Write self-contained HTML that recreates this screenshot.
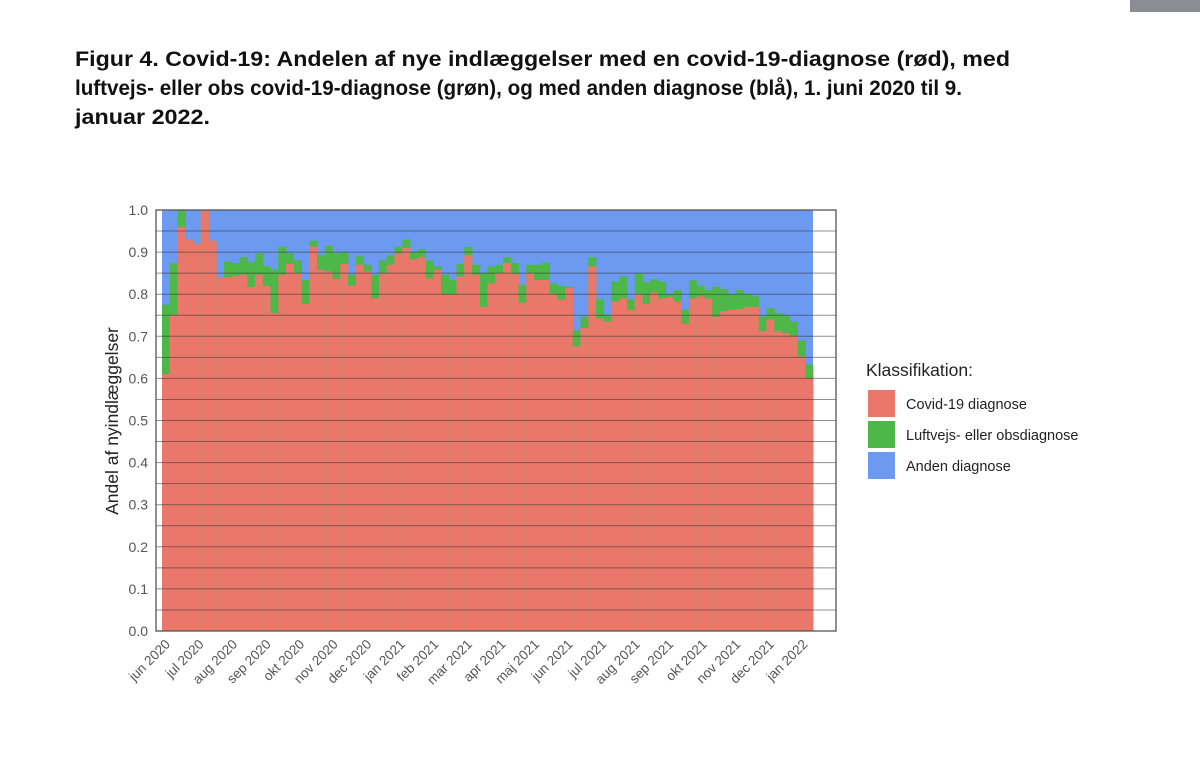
<!DOCTYPE html>
<html><head><meta charset="utf-8"><style>
body{margin:0;background:#fff;width:1200px;height:781px;overflow:hidden;font-family:"Liberation Sans",Arial,sans-serif}
.t{position:absolute;left:75px;margin:0;font-size:21px;line-height:29px;font-weight:bold;color:#111;white-space:nowrap;transform-origin:0 0}
</style></head><body>
<div style="position:absolute;left:1130px;top:0;width:70px;height:12px;background:#8a8d92"></div>
<div class="t" data-w="935" style="top:45px">Figur 4. Covid-19: Andelen af nye indlæggelser med en covid-19-diagnose (rød), med</div>
<div class="t" data-w="887" style="top:74px">luftvejs- eller obs covid-19-diagnose (grøn), og med anden diagnose (blå), 1. juni 2020 til 9.</div>
<div class="t" data-w="135" style="top:103px">januar 2022.</div>
<svg id="s" width="1200" height="781" style="position:absolute;left:0;top:0" xmlns="http://www.w3.org/2000/svg"></svg>
<script>
document.querySelectorAll('.t').forEach(function(e){var tw=+e.getAttribute('data-w');var w=e.getBoundingClientRect().width;e.style.transform='scaleX('+(tw/w)+')';});
var g=[0.775,0.874,1,0.93,0.92,1,0.927,0.84,0.877,0.874,0.888,0.877,0.897,0.866,0.858,0.913,0.897,0.88,0.834,0.927,0.893,0.915,0.897,0.9,0.846,0.89,0.87,0.846,0.88,0.893,0.913,0.93,0.9,0.907,0.88,0.866,0.846,0.834,0.872,0.912,0.87,0.85,0.866,0.87,0.888,0.874,0.822,0.87,0.87,0.875,0.826,0.82,0.817,0.714,0.746,0.888,0.788,0.75,0.83,0.842,0.788,0.85,0.828,0.836,0.83,0.8,0.81,0.763,0.833,0.82,0.81,0.818,0.812,0.8,0.81,0.8,0.795,0.747,0.767,0.755,0.75,0.735,0.69,0.633];
var r=[0.61,0.75,0.96,0.93,0.92,1,0.927,0.84,0.84,0.843,0.846,0.817,0.846,0.82,0.755,0.846,0.872,0.85,0.777,0.913,0.858,0.854,0.836,0.872,0.82,0.87,0.854,0.79,0.85,0.87,0.897,0.91,0.883,0.888,0.838,0.858,0.8,0.8,0.842,0.893,0.846,0.77,0.826,0.85,0.874,0.848,0.78,0.85,0.834,0.834,0.8,0.787,0.815,0.676,0.72,0.866,0.743,0.735,0.783,0.79,0.763,0.8,0.777,0.804,0.79,0.793,0.783,0.73,0.79,0.795,0.79,0.746,0.76,0.763,0.765,0.77,0.77,0.712,0.74,0.712,0.708,0.7,0.652,0.6];
var Y=function(v){return 631-v*421};
var h='<rect x="156" y="210" width="680" height="421" fill="#fff"/>';
var x0=162,w=7.75;
h+='<rect x="'+x0+'" y="210" width="'+(w*84)+'" height="421" fill="#6b9af0"/>';
for(var i=0;i<84;i++){var x=x0+i*w;
h+='<rect x="'+x.toFixed(2)+'" y="'+Y(g[i]).toFixed(1)+'" width="'+(w+0.4).toFixed(2)+'" height="'+(631-Y(g[i])).toFixed(1)+'" fill="#4db748"/>';
h+='<rect x="'+x.toFixed(2)+'" y="'+Y(r[i]).toFixed(1)+'" width="'+(w+0.4).toFixed(2)+'" height="'+(631-Y(r[i])).toFixed(1)+'" fill="#e9786b"/>';}
for(var k=1;k<20;k++){var y=Y(k*0.05);h+='<line x1="156" x2="836" y1="'+y+'" y2="'+y+'" stroke="#333" stroke-opacity="0.55" stroke-width="1"/>';}
h+='<rect x="156" y="210" width="680" height="421" fill="none" stroke="#555" stroke-width="1.3"/>';
for(var k=0;k<=10;k++){h+='<text x="148" y="'+(Y(k/10)+5)+'" text-anchor="end" font-size="14" fill="#555">'+(k/10).toFixed(1)+'</text>';}
var m=['jun 2020','jul 2020','aug 2020','sep 2020','okt 2020','nov 2020','dec 2020','jan 2021','feb 2021','mar 2021','apr 2021','maj 2021','jun 2021','jul 2021','aug 2021','sep 2021','okt 2021','nov 2021','dec 2021','jan 2022'];
for(var k=0;k<20;k++){var x=171+k*33.55;h+='<text transform="translate('+x+',645) rotate(-45)" text-anchor="end" font-size="13.5" fill="#555">'+m[k]+'</text>';}
h+='<text transform="translate(118,421) rotate(-90)" text-anchor="middle" font-size="17.5" fill="#222">Andel af nyindlæggelser</text>';
h+='<text x="866" y="376" font-size="17.5" fill="#222">Klassifikation:</text>';
var L=[['#e9786b','Covid-19 diagnose'],['#4db748','Luftvejs- eller obsdiagnose'],['#6b9af0','Anden diagnose']];
for(var k=0;k<3;k++){var y=390+k*31;h+='<rect x="868" y="'+y+'" width="27" height="27" fill="'+L[k][0]+'"/><text x="906" y="'+(y+19)+'" font-size="14.5" fill="#222">'+L[k][1]+'</text>';}
document.getElementById('s').innerHTML=h;
</script>
</body></html>
